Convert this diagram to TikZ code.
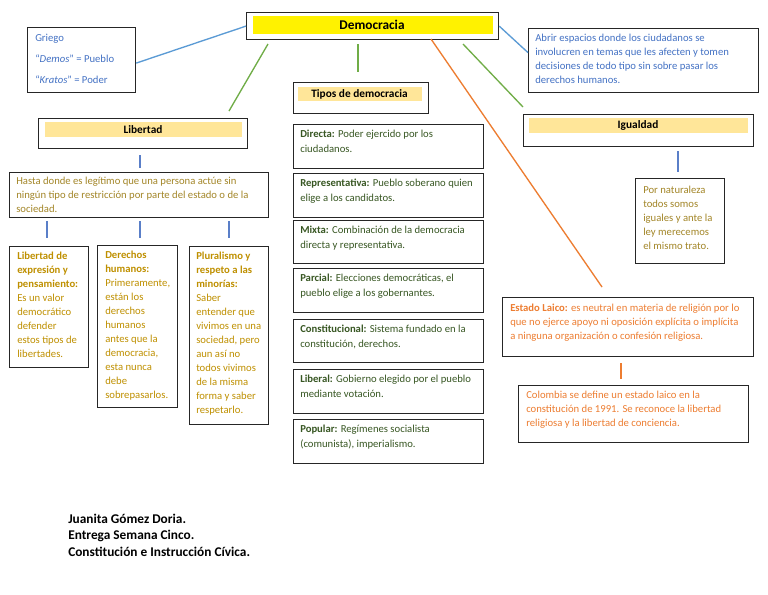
\documentclass[tikz,border=0pt]{standalone}
\usepackage{fontspec}
\setmainfont{Carlito}
\usetikzlibrary{calc}
\newdimen\px \px=0.75pt
\definecolor{blueT}{HTML}{4472C4}
\definecolor{goldT}{HTML}{BF9000}
\definecolor{oliveT}{HTML}{A38628}
\definecolor{greenT}{HTML}{385723}
\definecolor{orangeT}{HTML}{ED7D31}
\definecolor{barfill}{HTML}{FFE699}
\definecolor{lnBlue}{HTML}{5B9BD5}
\definecolor{lnGreen}{HTML}{70AD47}
\definecolor{lnOrange}{HTML}{ED7D31}
\definecolor{lnVert}{HTML}{5A7FC8}
\newcommand\mkbox[5]{\node[box, minimum width=#4\px, minimum height=#5\px] (#1) at (#2,#3) {};}
\newcommand\tx[6][]{\node[txt,#1] (#2) at (#3,#4) {\parbox[t]{#5\px}{\raggedright #6}};}
\begin{document}
\begin{tikzpicture}[x=0.75pt,y=-0.75pt,
  box/.style={draw=black!85, line width=0.9pt, rectangle, inner sep=0pt, anchor=north west},
  txt/.style={anchor=base west, inner sep=0pt, font=\fontsize{8}{10.5}\selectfont},
  tipo/.style={font=\fontsize{8}{10.9}\selectfont, text=greenT},
  head/.style={inner sep=0pt, font=\bfseries\fontsize{8.5}{10}\selectfont},
  conn/.style={line width=1pt},
  vline/.style={draw=lnVert, line width=0.9pt}]
\useasboundingbox (0,0) rectangle (768,594);
\fill[white] (0,0) rectangle (768,594);

% boxes
\mkbox{gri}{27}{27}{108}{65}
\mkbox{dem}{246}{12}{252}{27}
\mkbox{rbox}{528}{28}{230}{64}
\mkbox{tip}{293}{82}{135}{31}
\mkbox{lib}{38}{118}{209}{30}
\mkbox{igu}{523}{114}{230}{32}
\mkbox{has}{9}{172}{259}{45}
\mkbox{sa}{9}{246}{79}{121}
\mkbox{sb}{97}{245}{80}{162}
\mkbox{sc}{189}{246}{79}{178}
\mkbox{ta}{293}{124}{190}{44}
\mkbox{tb}{293}{173}{190}{44}
\mkbox{tc}{293}{220}{190}{43}
\mkbox{td}{293}{268}{190}{44}
\mkbox{te}{293}{319}{190}{43}
\mkbox{tf}{293}{369}{190}{44}
\mkbox{tg}{293}{419}{190}{44}
\mkbox{por}{635}{178}{89}{85}
\mkbox{lai}{502}{297}{251}{59}
\mkbox{col}{518}{385}{230}{57}

% header bars
\fill[yellow] ($(dem.north west)+(7,4)$) rectangle ($(dem.north east)+(-6,22)$);
\fill[barfill] ($(tip.north west)+(5,5)$) rectangle ($(tip.north east)+(-7,19)$);
\fill[barfill] ($(lib.north west)+(7,4)$) rectangle ($(lib.north east)+(-6,19)$);
\fill[barfill] ($(igu.north west)+(6,4)$) rectangle ($(igu.north east)+(-6,19)$);

\node[head, font=\bfseries\fontsize{10}{12}\selectfont] (demT) at (372,25) {Democracia};
\node[head] (tipT) at (359.5,94) {Tipos de democracia};
\node[head] (libT) at (143,129.5) {Libertad};
\node[head] (iguT) at (638,125.5) {Igualdad};

% texts
\tx[font=\fontsize{8}{15.75}\selectfont, text=blueT]{griT}{35}{41}{100}{Griego\\“\textit{Demos}” = Pueblo\\“\textit{Kratos}” = Poder}
\tx[text=blueT]{rboxT}{535}{41}{222}{Abrir espacios donde los ciudadanos se\\involucren en temas que les afecten y tomen\\decisiones de todo tipo sin sobre pasar los\\derechos humanos.}
\tx[text=oliveT]{hasT}{16}{184}{250}{Hasta donde es legítimo que una persona actúe sin\\ningún tipo de restricción por parte del estado o de la\\sociedad.}
\tx[text=goldT]{saT}{17}{259}{75}{\textbf{Libertad de}\\\textbf{expresión y}\\\textbf{pensamiento:}\\Es un valor\\democrático\\defender\\estos tipos de\\libertades.}
\tx[text=goldT]{sbT}{105}{258}{75}{\textbf{Derechos}\\\textbf{humanos:}\\Primeramente,\\están los\\derechos\\humanos\\antes que la\\democracia,\\esta nunca\\debe\\sobrepasarlos.}
\tx[text=goldT]{scT}{196}{259}{75}{\textbf{Pluralismo y}\\\textbf{respeto a las}\\\textbf{minorías:}\\Saber\\entender que\\vivimos en una\\sociedad, pero\\aun así no\\todos vivimos\\de la misma\\forma y saber\\respetarlo.}
\tx[tipo]{taT}{300}{137.5}{182}{\textbf{Directa:} Poder ejercido por los\\ciudadanos.}
\tx[tipo]{tbT}{300}{186.5}{182}{\textbf{Representativa:} Pueblo soberano quien\\elige a los candidatos.}
\tx[tipo]{tcT}{300}{233.5}{182}{\textbf{Mixta:} Combinación de la democracia\\directa y representativa.}
\tx[tipo]{tdT}{300}{281.5}{182}{\textbf{Parcial:} Elecciones democráticas, el\\pueblo elige a los gobernantes.}
\tx[tipo]{teT}{300}{332.5}{182}{\textbf{Constitucional:} Sistema fundado en la\\constitución, derechos.}
\tx[tipo]{tfT}{300}{382.5}{182}{\textbf{Liberal:} Gobierno elegido por el pueblo\\mediante votación.}
\tx[tipo]{tgT}{300}{432.5}{182}{\textbf{Popular:} Regímenes socialista\\(comunista), imperialismo.}
\tx[text=oliveT]{porT}{643}{193}{80}{Por naturaleza\\todos somos\\iguales y ante la\\ley merecemos\\el mismo trato.}
\tx[text=orangeT]{laiT}{510}{311}{245}{\textbf{Estado Laico:} es neutral en materia de religión por lo\\que no ejerce apoyo ni oposición explícita o implícita\\a ninguna organización o confesión religiosa.}
\tx[text=orangeT]{colT}{526}{398}{225}{Colombia se define un estado laico en la\\constitución de 1991. Se reconoce la libertad\\religiosa y la libertad de conciencia.}
\tx[font=\bfseries\fontsize{10}{12.4}\selectfont]{foot}{68}{523}{250}{Juanita Gómez Doria.\\Entrega Semana Cinco.\\Constitución e Instrucción Cívica.}

% connector end points
\coordinate (g1a) at (268,44); \coordinate (g1b) at (229,111);
\coordinate (g2a) at (358,44); \coordinate (g2b) at (358,72);
\coordinate (g3a) at (463,44); \coordinate (g3b) at (523,107);
\coordinate (o1a) at (431,39); \coordinate (o1b) at (602,287);
\coordinate (v1a) at (140,155); \coordinate (v1b) at (140,168);
\coordinate (v2a) at (47,221); \coordinate (v2b) at (47,238);
\coordinate (v3a) at (140,221); \coordinate (v3b) at (140,238);
\coordinate (v4a) at (229,221); \coordinate (v4b) at (229,238);
\coordinate (v5a) at (678,151); \coordinate (v5b) at (678,172);
\coordinate (v6a) at (621,363); \coordinate (v6b) at (621,379);

% connectors
\draw[conn, lnBlue] ($(gri.east)+(0,3)$) -- (dem.west);
\draw[conn, lnBlue] (dem.east) -- ($(rbox.west)+(0,-8)$);
\draw[conn, lnGreen] (g1a) -- (g1b);
\draw[conn, lnGreen] (g2a) -- (g2b);
\draw[conn, lnGreen] (g3a) -- (g3b);
\draw[conn, lnOrange] (o1a) -- (o1b);
\draw[vline] (v1a) -- (v1b);
\draw[vline] (v2a) -- (v2b);
\draw[vline] (v3a) -- (v3b);
\draw[vline] (v4a) -- (v4b);
\draw[vline] (v5a) -- (v5b);
\draw[conn, lnOrange] (v6a) -- (v6b);
\end{tikzpicture}
\end{document}
